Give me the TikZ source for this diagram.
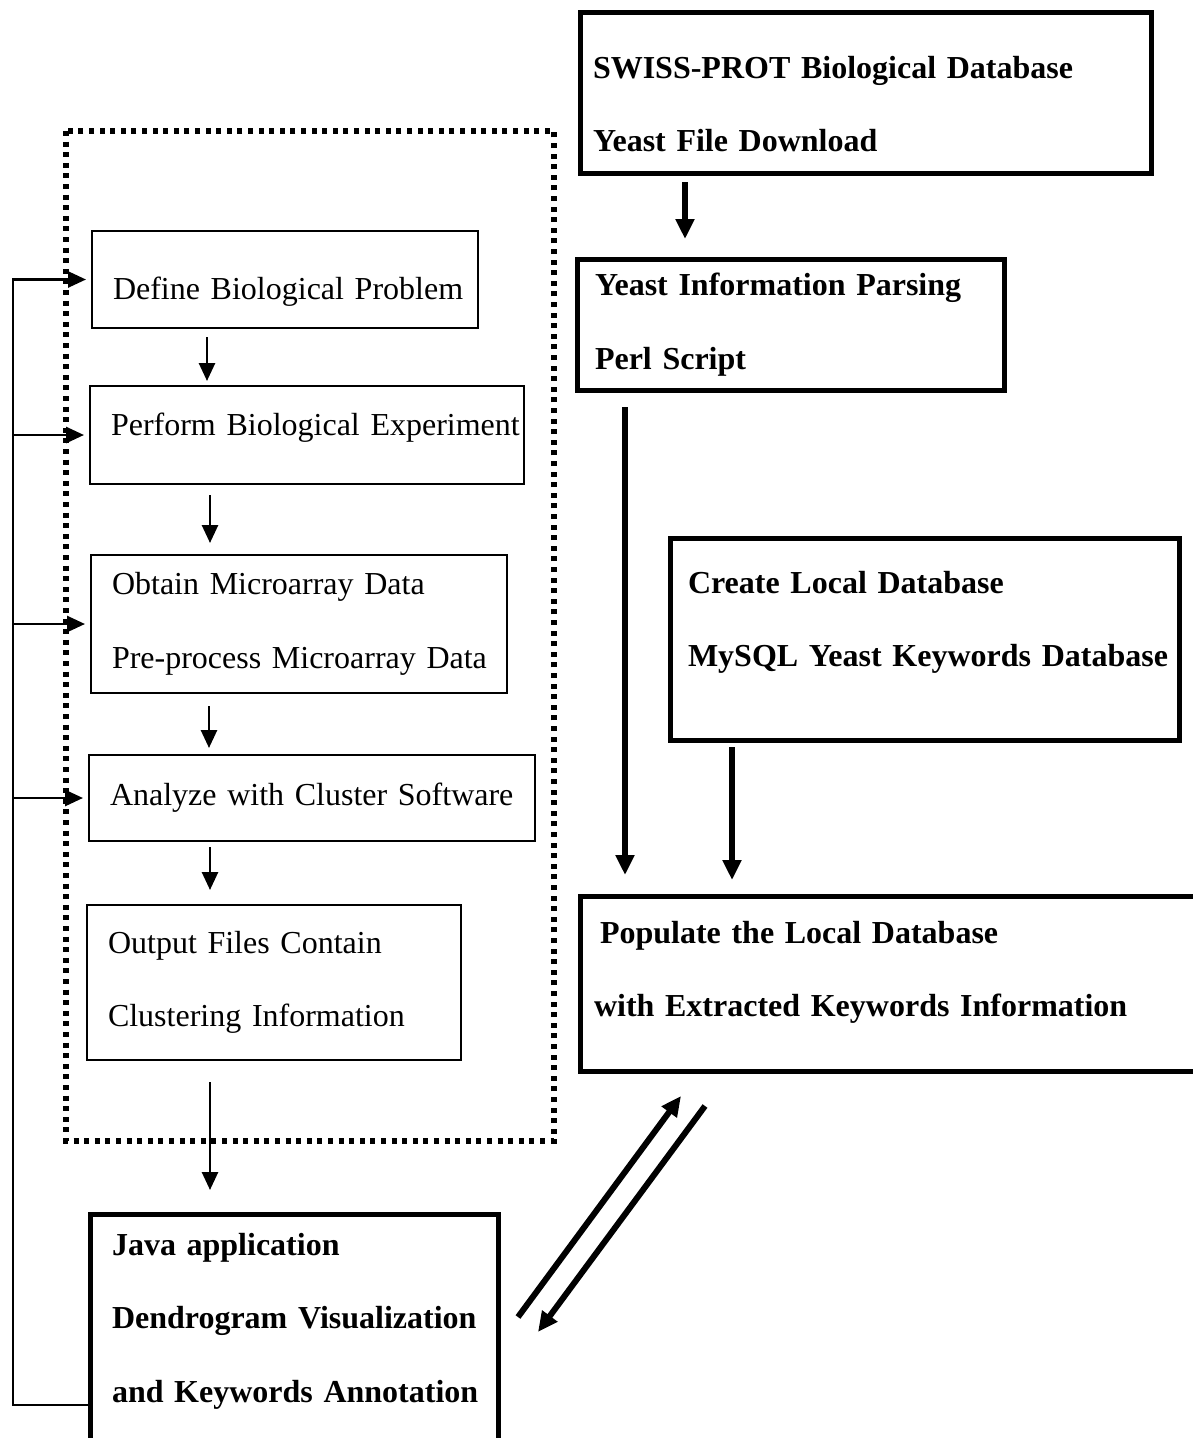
\documentclass[tikz,border=0pt]{standalone}
\usepackage{fontspec}
\setmainfont[WordSpace=0.85]{Liberation Serif}
\usetikzlibrary{arrows.meta}

\tikzset{
  plainbox/.style={draw, line width=2.7pt, anchor=north west, align=left, outer sep=0pt,
    inner xsep=21pt, inner ysep=0pt, font=\fontsize{32}{73.5}\selectfont},
  boldbox/.style={draw, line width=5pt, anchor=north west, align=left, outer sep=0pt,
    inner xsep=17pt, inner ysep=0pt, font=\fontsize{32}{73.5}\selectfont\bfseries},
  thinarrow/.style={line width=2.7pt, -{Triangle[length=18pt,width=16pt]}},
  thickarrow/.style={line width=6pt, -{Triangle[length=20pt,width=18pt]}},
  dotframe/.style={line width=6pt, dash pattern=on 5pt off 5.6pt},
}

\begin{document}
\begin{tikzpicture}[x=1pt,y=-1pt]
\useasboundingbox (0,0) rectangle (1193,1438);
\clip (0,0) rectangle (1193,1438);
\fill[white] (0,0) rectangle (1193,1438);

% right column
\node (swiss) [boldbox, inner xsep=13pt, text width=545pt, minimum height=161pt, text height=45pt] at (580,12)
  {SWISS-PROT Biological Database\\Yeast File Download};
\node (yeast) [boldbox, inner xsep=18pt, text width=391pt, minimum height=131pt] at (577,259)
  {Yeast Information Parsing\\Perl Script};
\node (create) [boldbox, inner xsep=18pt, text width=473pt, minimum height=202pt, text depth=114pt] at (670,538)
  {Create Local Database\\\mbox{MySQL Yeast Keywords Database}};
\node (populate) [boldbox, inner xsep=14pt, text width=632pt, minimum height=175pt, text depth=103pt] at (580,896)
  {\hspace*{6pt}Populate the Local Database\\with Extracted Keywords Information};
\node (java) [boldbox, inner xsep=22pt, text width=364pt, minimum height=260pt, text depth=200pt] at (90,1214)
  {Java application\\\mbox{Dendrogram Visualization}\\\mbox{and Keywords Annotation}};

% left column
\draw[dotframe] (66,131) rectangle (554,1141);
\node (define) [plainbox, text width=344pt, minimum height=97pt, text height=46pt] at (92,231)
  {\mbox{Define Biological Problem}};
\node (perform) [plainbox, text width=392pt, minimum height=98pt, text depth=22pt] at (90,386)
  {\mbox{Perform Biological Experiment}};
\node (obtain) [plainbox, text width=374pt, minimum height=138pt] at (91,555)
  {Obtain Microarray Data\\\mbox{Pre-process Microarray Data}};
\node (analyze) [plainbox, text width=404pt, minimum height=86pt] at (89,755)
  {Analyze with Cluster Software};
\node (output) [plainbox, text width=332pt, minimum height=155pt] at (87,905)
  {Output Files Contain\\Clustering Information};

\draw[thinarrow, shorten <=9pt, shorten >=5pt] ([xshift=115pt]define.south west) -- ([xshift=117pt]perform.north west);
\draw[thinarrow, shorten <=11pt, shorten >=12pt] ([xshift=120pt]perform.south west) -- ([xshift=119pt]obtain.north west);
\draw[thinarrow, shorten <=13pt, shorten >=7pt] ([xshift=118pt]obtain.south west) -- ([xshift=120pt]analyze.north west);
\draw[thinarrow, shorten <=6pt, shorten >=15pt] ([xshift=121pt]analyze.south west) -- ([xshift=123pt]output.north west);
\draw[thinarrow, shorten <=22pt, shorten >=24pt] ([xshift=123pt]output.south west) -- ([xshift=120pt]java.north west);

\draw[thickarrow, shorten <=9pt, shorten >=20pt] ([xshift=105pt]swiss.south west) -- ([xshift=108pt]yeast.north west);
\draw[thickarrow, shorten <=17pt, shorten >=21pt] ([xshift=48pt]yeast.south west) -- ([xshift=45pt]populate.north west);
\draw[thickarrow, shorten <=7pt, shorten >=16pt] ([xshift=62pt]create.south west) -- ([xshift=152pt]populate.north west);
\draw[thickarrow] ([xshift=20pt,yshift=-103pt]java.north east) -- ([xshift=101pt,yshift=-25pt]populate.south west);
\draw[thickarrow] ([xshift=125pt,yshift=-35pt]populate.south west) -- ([xshift=40pt,yshift=-118pt]java.north east);

% feedback loop
\coordinate (corner) at (13,1405);
\draw[thinarrow, shorten >=6pt] ([yshift=-61pt]java.west) -- (corner) |- (define.west);
\draw[thinarrow, shorten >=6pt] (corner |- perform.west) -- (perform.west);
\draw[thinarrow, shorten >=6pt] (corner |- obtain.west) -- (obtain.west);
\draw[thinarrow, shorten >=6pt] (corner |- analyze.west) -- (analyze.west);
\end{tikzpicture}
\end{document}
